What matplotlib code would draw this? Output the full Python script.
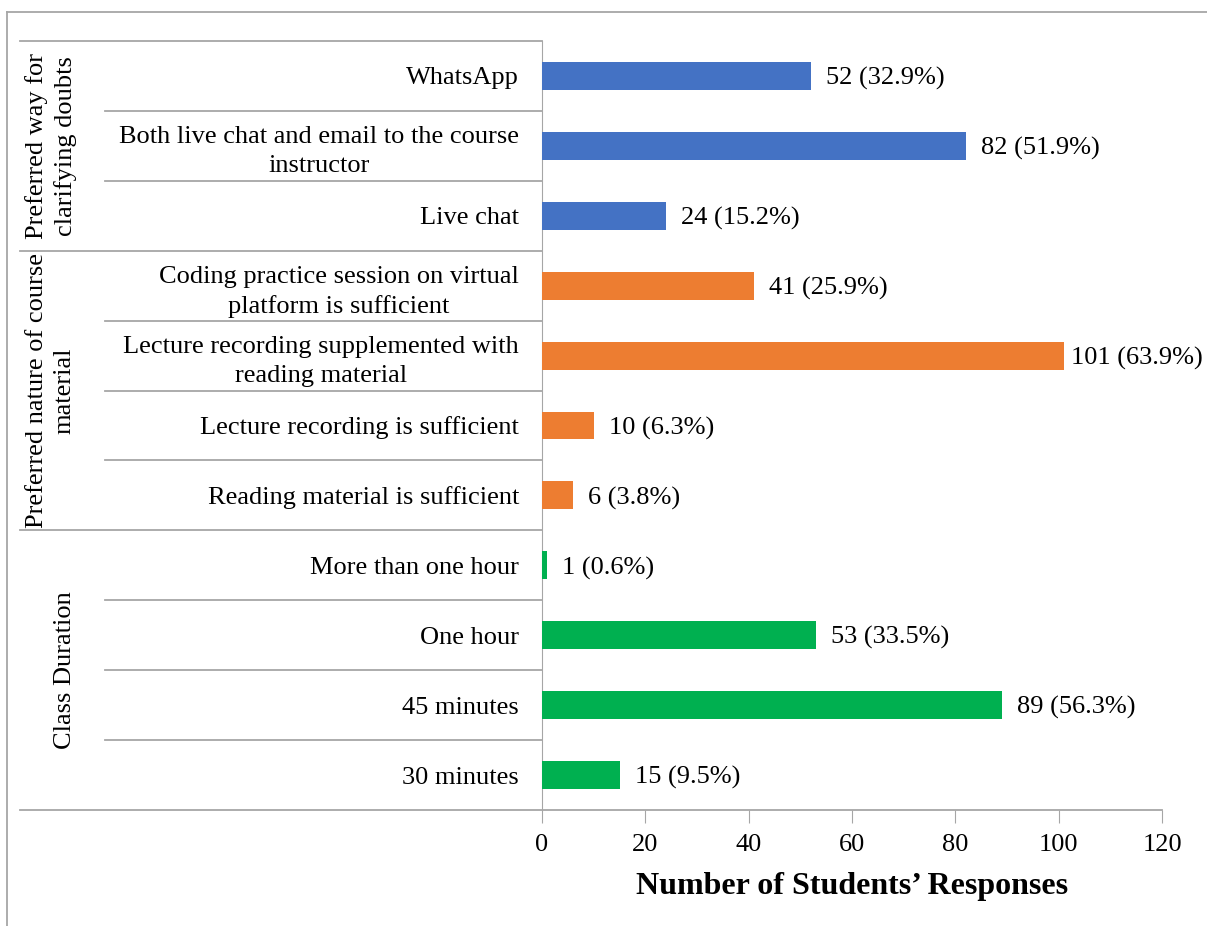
import matplotlib
matplotlib.use("Agg")
import matplotlib.pyplot as plt
from matplotlib.lines import Line2D
from matplotlib.transforms import blended_transform_factory
import numpy as np

plt.rcParams['font.family'] = ['Liberation Serif', 'DejaVu Serif']

categories = [
    "WhatsApp",
    "Both live chat and email to the course\ninstructor",
    "Live chat",
    "Coding practice session on virtual\nplatform is sufficient",
    "Lecture recording supplemented with\nreading material",
    "Lecture recording is sufficient",
    "Reading material is sufficient",
    "More than one hour",
    "One hour",
    "45 minutes",
    "30 minutes",
]
values = [52, 82, 24, 41, 101, 10, 6, 1, 53, 89, 15]
value_labels = ["52 (32.9%)", "82 (51.9%)", "24 (15.2%)", "41 (25.9%)", "101 (63.9%)",
                "10 (6.3%)", "6 (3.8%)", "1 (0.6%)", "53 (33.5%)", "89 (56.3%)", "15 (9.5%)"]
groups = ["Preferred way for\nclarifying doubts", "Preferred nature of course\nmaterial", "Class Duration"]
group_sizes = [3, 4, 4]
group_colors = ["#4472C4", "#ED7D31", "#00B050"]
xticks = [0, 20, 40, 60, 80, 100, 120]

W, H = 1207, 926
fig = plt.figure(figsize=(W / 100, H / 100), dpi=100)

def fx(px):
    return px / W

def fy(py):
    return 1 - py / H

left_px, right_px, top_px, bot_px = 542, 1162, 41, 810
ax = fig.add_axes([fx(left_px), fy(bot_px), fx(right_px) - fx(left_px), fy(top_px) - fy(bot_px)])

grid_col = "#A6A6A6"
FS = 19
colors = []
for g, n in enumerate(group_sizes):
    colors += [group_colors[g]] * n

ypos = np.arange(len(categories))
ax.barh(ypos, values, height=0.4, color=colors, zorder=3)
ax.set_ylim(len(categories) - 0.5, -0.5)
ax.set_xlim(0, 120)
ax.set_xticks(xticks)
ax.set_xticklabels([str(t) for t in xticks], fontsize=FS)
ax.set_yticks([])
for s in ["top", "right", "bottom"]:
    ax.spines[s].set_visible(False)
ax.spines["left"].set_color(grid_col)
ax.tick_params(axis="x", direction="out", length=9, color=grid_col, pad=8)

annots = []
for y, v, lab in zip(ypos, values, value_labels):
    a = ax.annotate(lab, (v, y), xytext=(11, 0), textcoords="offset points",
                    ha="left", va="center_baseline", fontsize=FS)
    annots.append(a)

ax.set_xlabel("Number of Students\u2019 Responses", fontsize=23, fontweight="bold", labelpad=12)

# category table
tr = blended_transform_factory(fig.transFigure, ax.transData)
label_x = fx(519)
for y, c in zip(ypos, categories):
    fig.text(label_x, y, c, transform=tr, ha="right", va="center_baseline",
             multialignment="center", fontsize=FS, linespacing=1.4)

# separators
boundaries = [-0.5]
acc = -0.5
for n in group_sizes:
    acc += n
    boundaries.append(acc)
for b in boundaries:
    x0 = fx(20)
    x1 = fx(left_px) if b != boundaries[-1] else fx(right_px)
    fig.add_artist(Line2D([x0, x1], [b, b], transform=tr, color=grid_col, lw=1.3))
for y in ypos[:-1]:
    b = y + 0.5
    if b in boundaries:
        continue
    fig.add_artist(Line2D([fx(105), fx(left_px)], [b, b], transform=tr, color=grid_col, lw=1.3))

# group labels
start = 0
group_x = [fx(51), fx(51), fx(65)]
for g, n in enumerate(group_sizes):
    center = start + (n - 1) / 2
    fig.text(group_x[g], center, groups[g], transform=tr, rotation=90,
             ha="center", va="center", multialignment="center", fontsize=FS, linespacing=1.3)
    start += n

# outer frame
fig.add_artist(Line2D([fx(7), 1.0], [fy(12), fy(12)], color=grid_col, lw=1.3))
fig.add_artist(Line2D([fx(7), fx(7)], [fy(12), 0.0], color=grid_col, lw=1.3))

# keep value labels inside the chart area (as the original does)
fig.canvas.draw()
renderer = fig.canvas.get_renderer()
limit = W - 4
for a in annots:
    bb = a.get_window_extent(renderer)
    if bb.x1 > limit:
        shift_pt = (bb.x1 - limit) * 72 / fig.dpi
        a.xyann = (a.xyann[0] - shift_pt, a.xyann[1])

fig.savefig("out.png", dpi=100)
